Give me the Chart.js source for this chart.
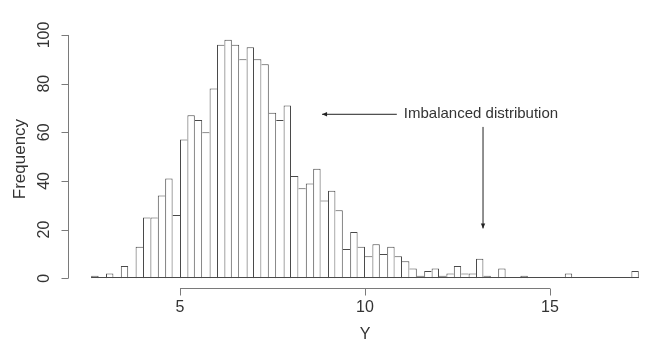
<!DOCTYPE html>
<html>
<head>
<meta charset="utf-8">
<script src="https://cdn.jsdelivr.net/npm/chart.js@4.4.0/dist/chart.umd.min.js"></script>
<style>
  html, body { margin: 0; padding: 0; background: #fff; overflow: hidden; }
</style>
</head>
<body>
<canvas id="histChart" width="651" height="348"></canvas>
<script>
// histogram bins: first break and bin width, counts
const binStart = 2.6;
const binWidth = 0.2;
const counts = [
  1, 0, 2, 0, 5, 0, 13, 25, 25, 34,
  41, 26, 57, 67, 65, 60, 78, 96, 98, 96,
  90, 95, 90, 88, 68, 65, 71, 42, 37, 39,
  45, 32, 36, 28, 12, 19, 13, 9, 14, 10,
  13, 9, 7, 4, 1, 3, 4, 1, 2, 5,
  2, 2, 8, 1, 0, 4, 0, 0, 1, 0,
  0, 0, 0, 0, 2, 0, 0, 0, 0, 0,
  0, 0, 0, 3
];
const xTicks = [5, 10, 15];
const yTicks = [0, 20, 40, 60, 80, 100];
const xTitle = 'Y';
const yTitle = 'Frequency';
const noteText = 'Imbalanced distribution';
// annotation anchors in data units
const noteArrowFrom = [10.86, 67.4];
const noteArrowTo = [8.84, 67.4];
const noteTextAt = [11.05, 67.4];
const downArrowFrom = [13.19, 62.2];
const downArrowTo = [13.19, 20.5];

const FONT = '"Liberation Sans", Arial, Helvetica, sans-serif';
const BAR_LINE = '#4a4a4a';
const AXIS_LINE = '#7a7a7a';
const TEXT = '#333333';

const points = counts.map((c, i) => ({ x: binStart + binWidth * (i + 0.5), y: c }));
const last = counts.length - 1;

// only draw each shared bar edge once, like R's rect outlines
function edgeWidths(ctx) {
  const i = ctx.dataIndex;
  const v = counts[i];
  if (!v) return { top: 0, left: 0, right: 0, bottom: 0 };
  return {
    top: 1,
    left: (i === 0 || counts[i - 1] <= v) ? 1 : 0,
    right: (i === last || counts[i + 1] < v) ? 1 : 0,
    bottom: 0
  };
}

function arrow(ctx, x1, y1, x2, y2) {
  ctx.beginPath();
  ctx.moveTo(x1, y1);
  ctx.lineTo(x2, y2);
  ctx.stroke();
  const a = Math.atan2(y2 - y1, x2 - x1);
  const len = 5, half = 2.2;
  ctx.beginPath();
  ctx.moveTo(x2, y2);
  ctx.lineTo(x2 - len * Math.cos(a) + half * Math.sin(a), y2 - len * Math.sin(a) - half * Math.cos(a));
  ctx.lineTo(x2 - len * Math.cos(a) - half * Math.sin(a), y2 - len * Math.sin(a) + half * Math.cos(a));
  ctx.closePath();
  ctx.fill();
}

const rAxesPlugin = {
  id: 'rAxes',
  afterDatasetsDraw(chart) {
    const { ctx, chartArea, scales: { x, y } } = chart;
    ctx.save();

    // baseline under all bins (zero-count bins show as a flat line)
    ctx.strokeStyle = BAR_LINE;
    ctx.lineWidth = 1;
    const y0 = Math.round(y.getPixelForValue(0)) - 0.5;
    ctx.beginPath();
    ctx.moveTo(x.getPixelForValue(binStart), y0);
    ctx.lineTo(x.getPixelForValue(binStart + binWidth * counts.length), y0);
    ctx.stroke();

    // x axis
    ctx.strokeStyle = AXIS_LINE;
    const ax = Math.round(chartArea.bottom) + 0.5;
    ctx.beginPath();
    ctx.moveTo(x.getPixelForValue(xTicks[0]), ax);
    ctx.lineTo(x.getPixelForValue(xTicks[xTicks.length - 1]), ax);
    xTicks.forEach(t => {
      const px = Math.round(x.getPixelForValue(t)) + 0.5;
      ctx.moveTo(px, ax);
      ctx.lineTo(px, ax + 7);
    });
    ctx.stroke();

    ctx.fillStyle = TEXT;
    ctx.font = '16px ' + FONT;
    ctx.textAlign = 'center';
    ctx.textBaseline = 'middle';
    xTicks.forEach(t => ctx.fillText(String(t), x.getPixelForValue(t), 308));
    ctx.fillText(xTitle, x.getPixelForValue(10), 335);

    // y axis
    const ay = Math.round(chartArea.left) - 0.5;
    ctx.beginPath();
    ctx.moveTo(ay, y.getPixelForValue(yTicks[0]));
    ctx.lineTo(ay, y.getPixelForValue(yTicks[yTicks.length - 1]));
    yTicks.forEach(t => {
      const py = Math.round(y.getPixelForValue(t)) + 0.5;
      ctx.moveTo(ay, py);
      ctx.lineTo(ay - 7, py);
    });
    ctx.stroke();

    yTicks.forEach(t => {
      ctx.save();
      ctx.translate(45, y.getPixelForValue(t));
      ctx.rotate(-Math.PI / 2);
      ctx.fillText(String(t), 0, 0);
      ctx.restore();
    });
    ctx.save();
    ctx.font = '17px ' + FONT;
    ctx.translate(20, (chartArea.top + chartArea.bottom) / 2);
    ctx.rotate(-Math.PI / 2);
    ctx.fillText(yTitle, 0, 0);
    ctx.restore();

    // annotation
    ctx.strokeStyle = '#222';
    ctx.fillStyle = '#222';
    arrow(ctx, x.getPixelForValue(noteArrowFrom[0]), y.getPixelForValue(noteArrowFrom[1]),
      x.getPixelForValue(noteArrowTo[0]), y.getPixelForValue(noteArrowTo[1]));
    arrow(ctx, x.getPixelForValue(downArrowFrom[0]), y.getPixelForValue(downArrowFrom[1]),
      x.getPixelForValue(downArrowTo[0]), y.getPixelForValue(downArrowTo[1]));
    ctx.fillStyle = TEXT;
    ctx.font = '15px ' + FONT;
    ctx.textAlign = 'left';
    ctx.fillText(noteText, x.getPixelForValue(noteTextAt[0]), y.getPixelForValue(noteTextAt[1]));

    ctx.restore();
  }
};

const canvas = document.getElementById('histChart');
new Chart(canvas.getContext('2d'), {
  type: 'bar',
  data: {
    datasets: [{
      data: points,
      backgroundColor: '#ffffff',
      borderColor: BAR_LINE,
      borderWidth: edgeWidths,
      borderSkipped: false,
      barPercentage: 1,
      categoryPercentage: 1,
      inflateAmount: 0
    }]
  },
  options: {
    responsive: false,
    animation: false,
    layout: { padding: { left: 69, top: 30.3, right: 0, bottom: 60.2 } },
    plugins: { legend: { display: false }, tooltip: { enabled: false } },
    scales: {
      x: { type: 'linear', display: false, min: 2.0, max: 17.73, offset: false },
      y: { display: false, min: -3.92, max: 101.92 }
    }
  },
  plugins: [rAxesPlugin]
});
</script>
</body>
</html>
